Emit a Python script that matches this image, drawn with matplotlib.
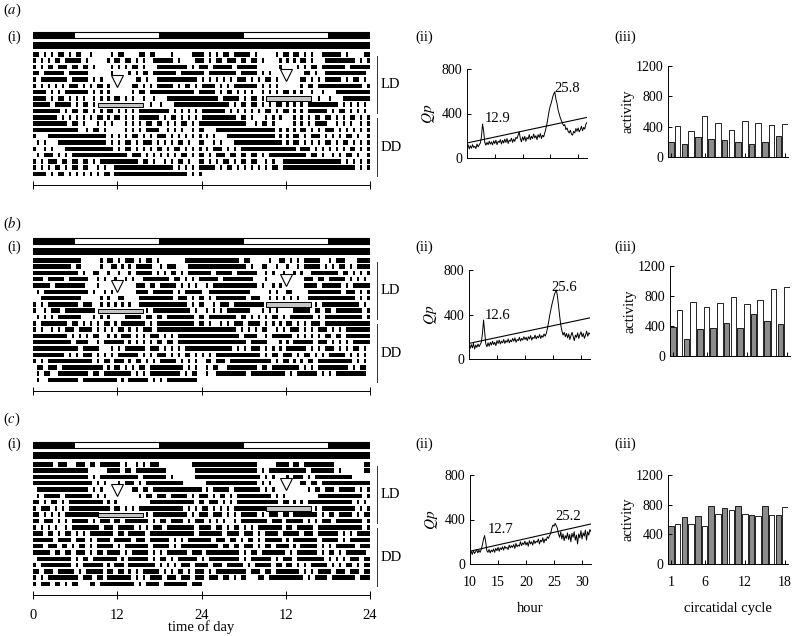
import numpy as np
import matplotlib
matplotlib.use('Agg')
import matplotlib.pyplot as plt
from matplotlib.patches import Rectangle

plt.rcParams['font.family'] = ['Liberation Serif', 'DejaVu Serif']
plt.rcParams['mathtext.fontset'] = 'stix'
plt.rcParams['font.size'] = 10
plt.rcParams['axes.linewidth'] = 0.7

W, H = 794, 636

# light schedule (hours) and actogram bin size
LIGHTS_ON, LIGHTS_OFF = 6, 18
BIN_H = 0.5

# actograms: one string per day, 48 half-hour bins, '#' = active (spaces only group 6 h blocks)
acto_a = [
    "##.#.#.##.#. ##..#.....#. ##....##.##. ...#.....###",
    "#.#.#.##.### ##.#.....#.# #.##.#.#..## ####.#....##",
    "#.#.##.###.# #.##.#....#. #.#.##.#...# ########.#.#",
    "##.######.## ####......#. ...#.#.##.## #####.######",
    "#.########.# ####.#.#.... .....##.#..# ###########.",
    "#.#.#.#.#.## #.#.#.##.#.. ....##.#.#.# ####.#.##.#.",
    "####.#.#.### ####.#.#.#.. ....#.##.### ##########.#",
    "####.#.##.#. #.#..#.#.#.# #.#.#..#..#. ..##########",
    "#####.#####. #.##.#...... .........#.. #...########",
    "########.#.# #.##.#.#.##. #.#.#.###### ###.#.#.#.#.",
    "#######.#.#. #.#.#.##.#.# #.#.#.###### .#.##.#.#.#.",
    "##########.# #.#...#.#.#. ..#.#.#.##.# #.#.#.##.#.#",
    "############ #..#.##.#... ..#.#.#.#### ..#.#.#..#.#",
    "#...######## #########.#. #.#.##.#.#.# ##.#.#.#.#.#",
    ".#.#...##### #########.#. #.##.#.###.# .#.#.##.#..#",
    "#..#.#...### ###########. #.##.#.#.#.# #.#.##.#.#.#",
    ".#.###.#.#.# ############ ###.###.#.#. #.#.#.##.#.#",
    "#.#.###.##.# #.##.#.##### ######.##.#. .#.#.##.#..#",
    "#.#.#.##.#.# #.##..#.#..# ############ ####.#.#.#.#",
    "####.#.##.#. #.#.#.#.##.# ############ ########.#.#",
]
acto_b = [
    "############ ##.....#.##. #.###.#.##.# .......#####",
    "###########. ##.....#..## .#.#.#####.. #.###...####",
    "############ #.#..##..#.. #..#.#####.# .#.##.#.####",
    "###.#####.## ####..#.#..# ..#.#..##### ###.##.#.#.#",
    "#####.###### ###...#..... .....###.##. #####.#.#.#.",
    ".#.######### ####.#..#.#. .....####.## ####.#.#####",
    "..########## ##.....#.#.. ##....###### ####.###.#.#",
    "#.#.######## #.###..#.#.# .#.#..###### ########.#.#",
    "#..#.###.### ######...... ........#.## #########.#.",
    ".#.#.#.##### ##...#.#.#.. ..#####.##.# #.########.#",
    "#.########.# #.#.#.#.##.# .#######.#.# ##########.#",
    "#.#..#.#.### .####.#.#.#. ##.#.#.###.# ############",
    "##########.# .#.#.##..#.# .###.#.#.### .#.#.#######",
    "###########. ####..#.#### ##.#.#.#.#.# #.##.#######",
    "############ #.#####...#. #.######.### .#.#.#.#####",
    "#########.#. #.###.#.#.#. ######.#.#.# ##.#.#.##.#.",
    "#.#.######## #####.#.##.# ##.#.##.#.#. #####.#.#.#.",
    ".##.###.#### ########.#.# #.#.#.##.### #######.#.#.",
    ".#.##..##### ####.##.#### ####.#.#.### ######.#.##.",
    ".#..######## #.########## .#.######.#. #.#########.",
]
acto_c = [
    "######.###.. ###.##.##### #.#..#.#.### .........###",
    "############ ####.....### #.##.####### ##........##",
    "############ ####.#.##### ######.##### ##.#......##",
    "############ #####.#.#... #.###.#.#### #######.....",
    ".########### ####.#.#.... ....##.##.## ############",
    ".#.#####.### #####.#.#... ......#.##.# ##.#####.#.#",
    "##.#.##.#.## ########.#.# .........### ##########.#",
    "#.###.#.#.## ##########.# #.#.#.###### #######.#.#.",
    "##.#.#.#.### #######..... ........#.## ########.#.#",
    "##.###.#.#.# ####.#.###.# #.#######.#. ##.####.#.##",
    "#.#.#.#..#.# #######.###. #####.#.#.## #.########.#",
    "###.##.#.##. #.#.#######. ##.#####.### ##########.#",
    "######.####. ###.#.####.# ####.###.### ###.#.#.####",
    "###.###.##.# .##.#.#####. #.#######.## ###.#.######",
    "#####.##.##. ###.#.##.### #.#.#####.#. #.######.###",
    ".##########. #.##.####### .#.######.#. ##.#.######.",
    "#.#########. #.######.#.# ##.########. #.#.#.###.##",
    "##.###.##### .#.#####.##. ##.#.#.##### .#.#.##.#.##",
    "#.#.######## #.###.##.### ####.#.#.### #.###.###.##",
    "#.###.##.#.# #...##.##### #####.#.#### .#######.###",
]

# chi-square periodograms, periods 10.0 .. 31.6 h in 0.2 h steps
periods = np.round(np.arange(10.0, 31.61, 0.2), 1)
qp_a = [95, 118, 82, 110, 88, 120, 95, 105, 85, 125,
        100, 118, 135, 190, 305, 240, 140, 115, 140, 120,
        150, 125, 145, 118, 155, 130, 160, 120, 150, 140,
        165, 125, 158, 135, 170, 140, 175, 130, 160, 150,
        178, 140, 170, 150, 185, 175, 205, 235, 175, 145,
        190, 160, 195, 150, 185, 170, 210, 165, 195, 175,
        215, 180, 200, 165, 210, 185, 220, 175, 205, 190,
        225, 265, 310, 370, 430, 470, 500, 545, 575, 595,
        530, 490, 430, 395, 360, 335, 310, 290, 300, 255,
        270, 240, 225, 250, 215, 205, 240, 225, 265, 240,
        270, 235, 255, 285, 245, 275, 260, 305, 320]
qp_b = [120, 95, 130, 100, 140, 90, 125, 105, 135, 110,
        130, 150, 230, 350, 240, 135, 110, 145, 115, 150,
        125, 160, 130, 150, 120, 165, 140, 170, 135, 160,
        145, 175, 140, 165, 150, 180, 145, 170, 155, 185,
        160, 190, 150, 175, 165, 195, 160, 185, 170, 200,
        175, 195, 165, 200, 180, 210, 170, 195, 185, 215,
        180, 205, 190, 220, 185, 210, 195, 225, 205, 230,
        275, 330, 390, 440, 490, 530, 570, 600, 620, 560,
        470, 380, 300, 250, 215, 240, 200, 230, 190, 225,
        175, 210, 240, 200, 165, 215, 195, 235, 185, 220,
        245, 200, 230, 185, 215, 250, 205, 235, 225]
qp_c = [90, 115, 85, 120, 95, 110, 130, 100, 125, 105,
        130, 170, 220, 255, 200, 120, 105, 130, 100, 125,
        110, 135, 105, 140, 120, 150, 115, 145, 130, 155,
        125, 160, 140, 150, 130, 170, 145, 165, 150, 175,
        140, 185, 155, 170, 160, 200, 165, 190, 175, 205,
        170, 195, 160, 210, 180, 200, 170, 215, 185, 205,
        195, 225, 180, 215, 200, 235, 190, 225, 210, 245,
        230, 255, 275, 320, 350, 340, 365, 345, 320, 270,
        240, 290, 225, 270, 210, 255, 230, 280, 220, 265,
        200, 275, 240, 290, 215, 260, 180, 270, 235, 300,
        225, 280, 250, 305, 215, 290, 260, 310, 290]
# significance line, value at 10 h and at 31.6 h
sig_a = [135, 365]
sig_b = [140, 370]
sig_c = [115, 360]
peaks_a = ['12.9', '25.8']
peaks_b = ['12.6', '25.6']
peaks_c = ['12.7', '25.2']

# activity per circatidal cycle
cycles = list(range(1, 19))
act_a = [200, 409, 169, 342, 267, 538, 236, 449, 222, 360, 196, 471, 178, 444, 196, 422, 276, 431]
act_b = [382, 609, 222, 716, 364, 653, 369, 707, 444, 787, 369, 698, 556, 742, 471, 898, 431, 924]
act_c = [511, 542, 636, 533, 644, 511, 778, 676, 756, 724, 787, 676, 667, 653, 787, 667, 667, 769]

fig = plt.figure(figsize=(W / 100, H / 100), dpi=100)


def add_ax(x0, y0, x1, y1):
    return fig.add_axes([x0 / W, 1 - y1 / H, (x1 - x0) / W, (y1 - y0) / H])


def runs(day):
    """Return (start_bin, n_bins) for each run of active bins."""
    out, start = [], None
    for k, c in enumerate(day + '.'):
        if c == '#' and start is None:
            start = k
        elif c != '#' and start is not None:
            out.append((start, k - start))
            start = None
    return out


def draw_actogram(ax, days, tri_rows, last=False):
    days = [d.replace(' ', '') for d in days]
    assert all(len(d) == 48 for d in days)
    n = len(days)
    nbins = len(days[0])
    # double plot: row r shows day r and day r + 1
    for r in range(n):
        for half, d in ((0, r), (1, r + 1)):
            if d >= n:
                continue
            segs = []
            for k0, nb in runs(days[d]):
                x0 = k0 * BIN_H + (0 if k0 == 0 else 0.1)
                x1 = (k0 + nb) * BIN_H - (0 if k0 + nb == nbins else 0.1)
                segs.append((24 * half + x0, x1 - x0))
            ax.broken_barh(segs, (r, 0.72), facecolors='black', linewidth=0)
    # light / dark bar and constant dark bar
    dark = [(0, LIGHTS_ON), (LIGHTS_OFF, 24 - LIGHTS_OFF + LIGHTS_ON), (24 + LIGHTS_OFF, 24 - LIGHTS_OFF)]
    ax.broken_barh(dark, (-3.24, 1.05), facecolors='black', linewidth=0)
    ax.add_patch(Rectangle((0, -3.24), 48, 1.05, fill=False, ec='black', lw=0.8))
    ax.broken_barh([(0, 48)], (-1.54, 1.1), facecolors='black', linewidth=0)
    # low tide bars and triangles
    ax.broken_barh([(9.2, 6.5)], (8.05, 0.65), facecolors='#c4c4c4', edgecolors='black', linewidth=0.7)
    ax.broken_barh([(33.2, 6.4)], (7.05, 0.65), facecolors='#c4c4c4', edgecolors='black', linewidth=0.7)
    ax.plot([12, 36], tri_rows, 'v', ms=8, mfc='white', mec='black', mew=0.8, clip_on=False)
    # LD / DD brackets
    ax.plot([49.0, 49.0], [0.7, 9.6], color='#333333', lw=0.7, clip_on=False)
    ax.plot([49.0, 49.0], [10.4, 19.6], color='#333333', lw=0.7, clip_on=False)
    ax.text(49.5, 5.2, 'LD', ha='left', va='center', fontsize=10.5)
    ax.text(49.5, 15.2, 'DD', ha='left', va='center', fontsize=10.5)

    ax.set_xlim(0, 48)
    ax.set_ylim(21.1, -3.3)
    for s in ('top', 'left', 'right'):
        ax.spines[s].set_visible(False)
    ax.set_yticks([])
    ax.set_xticks([0, 12, 24, 36, 48])
    ax.tick_params(axis='x', direction='inout', length=6, width=0.7, pad=7, labelsize=10.5)
    if last:
        ax.set_xticklabels(['0', '12', '24', '12', '24'])
        ax.set_xlabel('time of day', fontsize=10.5, labelpad=-1)
    else:
        ax.set_xticklabels([])
    ax.patch.set_visible(False)


def draw_periodogram(ax, qp, sig, peaks, peak_xy, last=False):
    ax.plot(periods, qp, color='black', lw=0.7)
    ax.plot([10, 31.6], sig, color='black', lw=0.8)
    for txt, (x, y) in zip(peaks, peak_xy):
        ax.text(x, y, txt, ha='left', va='center', fontsize=10.5)
    ax.set_xlim(10, 31.6)
    ax.set_ylim(0, 800)
    for s in ('top', 'right'):
        ax.spines[s].set_visible(False)
    ax.set_xticks([10, 15, 20, 25, 30])
    ax.set_yticks([0, 400, 800])
    ax.tick_params(direction='in', length=3, width=0.7, labelsize=10)
    ax.tick_params(axis='x', pad=9)
    ax.tick_params(axis='y', pad=3.5)
    ax.set_ylabel('$Qp$', fontsize=11, labelpad=3)
    if last:
        ax.set_xlabel('hour', fontsize=10.5, labelpad=9)
    else:
        ax.set_xticklabels([])
    ax.patch.set_visible(False)


def draw_activity(ax, vals, last=False):
    colors = ['#8c8c8c' if i % 2 == 0 else 'white' for i in range(len(vals))]
    ax.bar(cycles, vals, width=0.82, color=colors, edgecolor='black', linewidth=0.6)
    ax.set_xlim(0.55, 18.45)
    ax.set_ylim(0, 1200)
    for s in ('top', 'right'):
        ax.spines[s].set_visible(False)
    ax.set_xticks([1, 6, 12, 18])
    ax.set_yticks([0, 400, 800, 1200])
    ax.tick_params(direction='in', length=3, width=0.7, labelsize=10)
    ax.tick_params(axis='x', pad=9)
    ax.tick_params(axis='y', pad=3.5)
    ax.set_ylabel('activity', fontsize=10.5, labelpad=0.5)
    if last:
        ax.set_xlabel('circatidal cycle', fontsize=10.5, labelpad=9)
    else:
        ax.set_xticklabels([])
    ax.patch.set_visible(False)


draw_actogram(add_ax(33, 31.2, 370, 185), acto_a, [4.6, 3.7])
draw_actogram(add_ax(33, 237.2, 370, 391), acto_b, [4.5, 3.5])
draw_actogram(add_ax(33, 441.2, 370, 595), acto_c, [4.5, 3.5], last=True)

draw_periodogram(add_ax(467, 69, 587, 158), qp_a, sig_a, peaks_a, [(13.2, 353), (25.7, 623)])
draw_periodogram(add_ax(469, 270, 590, 359), qp_b, sig_b, peaks_b, [(12.8, 395), (24.7, 641)])
draw_periodogram(add_ax(470, 475, 591, 564), qp_c, sig_c, peaks_c, [(13.2, 312), (25.3, 425)], last=True)

draw_activity(add_ax(668, 66, 788, 157), act_a)
draw_activity(add_ax(670, 266, 790, 356), act_b)
draw_activity(add_ax(668, 475, 788, 564), act_c, last=True)

# panel labels
for letter, y in (('a', 10), ('b', 224), ('c', 419)):
    fig.text(12 / W, 1 - y / H, '($\\mathit{%s}$)' % letter, ha='center', va='center', fontsize=10.5)
for y in (37, 247, 444):
    fig.text(14 / W, 1 - y / H, '(i)', ha='center', va='center', fontsize=10.5)
    fig.text(424 / W, 1 - y / H, '(ii)', ha='center', va='center', fontsize=10.5)
    fig.text(625 / W, 1 - y / H, '(iii)', ha='center', va='center', fontsize=10.5)

fig.savefig('out.png', dpi=100)
